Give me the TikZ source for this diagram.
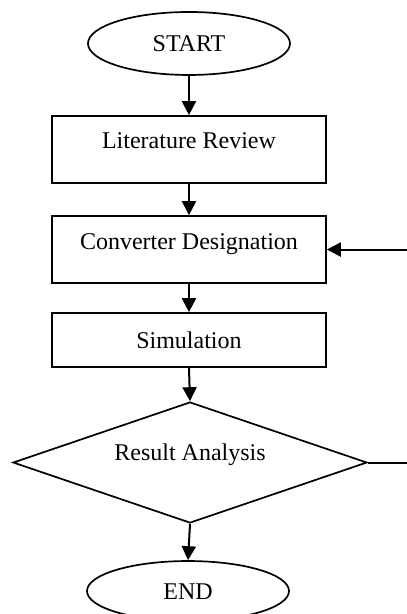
\documentclass[tikz,border=0pt]{standalone}
\usepackage{fontspec}
\setmainfont{Liberation Serif}
\usetikzlibrary{shapes.geometric,arrows.meta}

\begin{document}
\begin{tikzpicture}[x=1cm,y=1cm,
  font=\fontsize{12}{14}\selectfont,
  terminal/.style={draw,ellipse,line width=0.85pt,minimum width=3.55cm,inner sep=0pt,text height=8pt,text depth=0pt},
  stagebox/.style={draw,rectangle,line width=0.85pt,minimum width=4.815cm,inner sep=0pt,text height=8pt},
  decision/.style={draw,diamond,aspect=2.9,line width=0.85pt,minimum width=6.221cm,minimum height=2.126cm,inner sep=0pt,text height=8pt,text depth=10pt},
  flow/.style={-{Triangle[length=7pt,width=7pt]},line width=1pt}]
\useasboundingbox (0,0) rectangle (7.135,-10.790);

\node[terminal,minimum height=1.107cm] (start) at (3.321,-0.764) {START};
\node[stagebox,minimum height=1.177cm,text depth=8.5pt] (litrev) at (3.321,-2.627) {Literature Review};
\node[stagebox,minimum height=1.177cm,text depth=8.5pt] (convdes) at (3.321,-4.385) {Converter Designation};
\node[stagebox,minimum height=0.949cm,text depth=0pt] (sim) at (3.321,-5.975) {Simulation};
\node[decision] (result) at (3.339,-8.128) {Result Analysis};
\node[terminal,minimum height=1.054cm] (end) at (3.304,-10.386) {END};

\coordinate (back) at (7.4,-8.128);

\draw[flow] (start) -- (litrev);
\draw[flow] (litrev) -- (convdes);
\draw[flow] (convdes) -- (sim);
\draw[flow] (sim.south) -- (result.north);
\draw[flow] (result.south) -- (end.north);
\draw[flow] (result.east) -- (back) |- (convdes.east);
\end{tikzpicture}
\end{document}
